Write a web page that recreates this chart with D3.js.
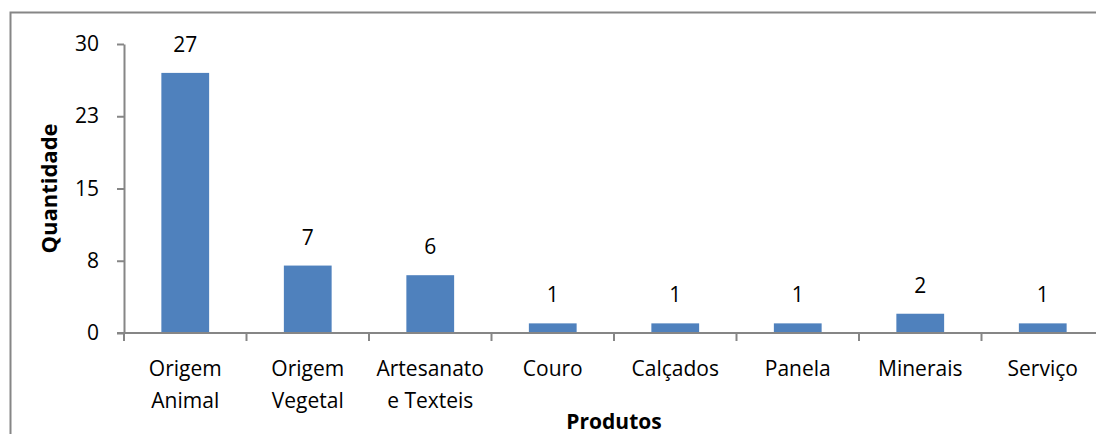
<!DOCTYPE html>
<html>
<head>
<meta charset="utf-8">
<script src="https://cdn.jsdelivr.net/npm/d3@7"></script>
<style>
  body { margin: 0; background: #fff; }
  text { font-family: "Open Sans", "Liberation Sans", sans-serif; fill: #000; }
</style>
</head>
<body>
<div class="chart"></div>
<script>
// data
const categories = [["Origem", "Animal"], ["Origem", "Vegetal"], ["Artesanato", "e Texteis"],
    ["Couro"], ["Calçados"], ["Panela"], ["Minerais"], ["Serviço"]]
const values = [27, 7, 6, 1, 1, 1, 2, 1]
const yTicks = [0, 7.5, 15, 22.5, 30]
const yTickLabels = ["0", "8", "15", "23", "30"]

let width = 1096
let height = 434
let margin = {top: 44, right: -8, bottom: 101, left: 124}
let fontSize = "21px"

let svg = d3.select(".chart")
    .append("svg")
    .attr("width", width)
    .attr("height", height)

// outer chart frame (runs off right and bottom edges)
svg.append("rect")
    .attr("x", 10.5).attr("y", 12.5)
    .attr("width", width + 20).attr("height", height + 20)
    .attr("fill", "none")
    .attr("stroke", "#868686")
    .attr("stroke-width", 2)

let x = d3.scaleBand()
    .domain(d3.range(values.length))
    .range([margin.left, width - margin.right])
    .paddingInner(0.61)
    .paddingOuter(0.305)

let y = d3.scaleLinear()
    .domain([0, 30])
    .range([height - margin.bottom, margin.top])

let axisColor = "#868686"

// bars
svg.selectAll("rect.bar")
    .data(values)
    .enter()
    .append("rect")
    .attr("class", "bar")
    .attr("x", (d, i) => x(i))
    .attr("y", d => y(d))
    .attr("width", x.bandwidth())
    .attr("height", d => y(0) - y(d))
    .attr("fill", "#4F81BD")

// value labels
svg.selectAll("text.val")
    .data(values)
    .enter()
    .append("text")
    .attr("class", "val")
    .attr("x", (d, i) => x(i) + x.bandwidth() / 2)
    .attr("y", d => y(d) - 21)
    .attr("text-anchor", "middle")
    .style("font-size", fontSize)
    .text(d => d)

// y axis
let yAxis = svg.append("g")
    .attr("transform", "translate(" + margin.left + ",0)")
    .call(d3.axisLeft(y).tickValues(yTicks)
        .tickFormat((d, i) => yTickLabels[i])
        .tickSize(7).tickSizeOuter(0).tickPadding(18))
yAxis.select(".domain").attr("stroke", axisColor).attr("stroke-width", 2)
yAxis.selectAll(".tick line").attr("stroke", axisColor).attr("stroke-width", 2)
yAxis.selectAll(".tick text").style("font-size", fontSize).style("font-family", "Open Sans").attr("fill", "#000")

// x axis line and category ticks
let step = x.step()
let boundaries = d3.range(values.length + 1).map(i => margin.left + i * step)
svg.append("line")
    .attr("x1", margin.left - 7).attr("x2", width)
    .attr("y1", y(0)).attr("y2", y(0))
    .attr("stroke", axisColor).attr("stroke-width", 2)
svg.selectAll("line.xtick")
    .data(boundaries)
    .enter()
    .append("line")
    .attr("class", "xtick")
    .attr("x1", d => d).attr("x2", d => d)
    .attr("y1", y(0)).attr("y2", y(0) + 8)
    .attr("stroke", axisColor).attr("stroke-width", 2)

// category labels
let cat = svg.selectAll("text.cat")
    .data(categories)
    .enter()
    .append("text")
    .attr("class", "cat")
    .attr("text-anchor", "middle")
    .style("font-size", fontSize)
cat.selectAll("tspan")
    .data((d, i) => d.map(s => ({s: s, i: i})))
    .enter()
    .append("tspan")
    .attr("x", d => x(d.i) + x.bandwidth() / 2)
    .attr("y", (d, j) => 376 + j * 32)
    .text(d => d.s)

// axis titles
svg.append("text")
    .attr("x", (margin.left + width - margin.right) / 2)
    .attr("y", 429)
    .attr("text-anchor", "middle")
    .style("font-size", "21px")
    .style("font-weight", "bold")
    .text("Produtos")

svg.append("text")
    .attr("transform", "translate(57," + (y(15)) + ") rotate(-90)")
    .attr("text-anchor", "middle")
    .style("font-size", "22px")
    .style("font-weight", "bold")
    .text("Quantidade")
</script>
</body>
</html>
